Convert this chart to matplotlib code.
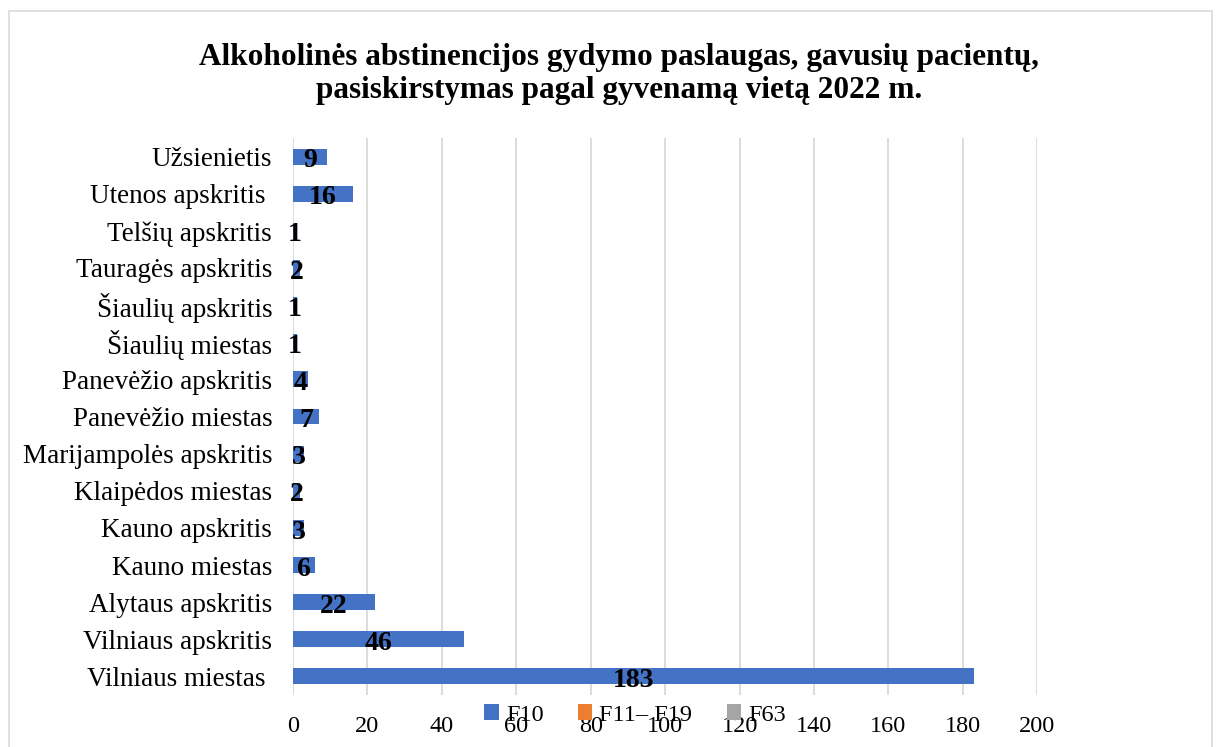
import matplotlib.pyplot as plt
from matplotlib.patches import Rectangle

# data, bottom to top as in the chart
categories = [
    "Vilniaus miestas ", "Vilniaus apskritis", "Alytaus apskritis",
    "Kauno miestas", "Kauno apskritis", "Klaipėdos miestas",
    "Marijampolės apskritis", "Panevėžio miestas", "Panevėžio apskritis",
    "Šiaulių miestas", "Šiaulių apskritis", "Tauragės apskritis",
    "Telšių apskritis", "Utenos apskritis ", "Užsienietis",
]
f10 = [183, 46, 22, 6, 3, 2, 3, 7, 4, 1, 1, 2, 1, 16, 9]
f11_f19 = [0] * len(categories)
f63 = [0] * len(categories)
series_names = ["F10", "F11– F19", "F63"]
x_ticks = [0, 20, 40, 60, 80, 100, 120, 140, 160, 180, 200]

colors = ["#4472C4", "#ED7D31", "#A5A5A5"]
font = "Liberation Serif"

fig = plt.figure(figsize=(12.19, 7.47), dpi=100)
ax = fig.add_axes([0.2404, 0.0696, 0.6105, 0.7457])

ypos = list(range(len(categories)))
bars = ax.barh(ypos, f10, height=0.43, color=colors[0], label=series_names[0], zorder=3)
ax.barh(ypos, f11_f19, height=0.43, color=colors[1], label=series_names[1], zorder=3)
ax.barh(ypos, f63, height=0.43, color=colors[2], label=series_names[2], zorder=3)

for rect, val in zip(bars, f10):
    ax.annotate(str(val), (rect.get_x() + rect.get_width() / 2, rect.get_y() + rect.get_height() / 2),
                xytext=(0, -3), textcoords="offset points", ha="center", va="center",
                fontsize=20, fontweight="bold", family=font, zorder=4)

ax.set_xlim(0, 200)
ax.set_ylim(-0.5, len(categories) - 0.5)
ax.set_xticks(x_ticks)
ax.set_yticks(ypos)
ax.set_yticklabels(categories, fontsize=19.5, family=font)
ax.set_xticklabels([str(t) for t in x_ticks], fontsize=17.5, family=font)
ax.tick_params(length=0)
ax.tick_params(axis="y", pad=15)
ax.tick_params(axis="x", pad=15)
ax.grid(axis="x", color="#D9D9D9", linewidth=1.3, zorder=0)
for s in ax.spines.values():
    s.set_visible(False)

fig.text(0.508, 0.901, "Alkoholinės abstinencijos gydymo paslaugas, gavusių pacientų,\n"
         "pasiskirstymas pagal gyvenamą vietą 2022 m.",
         ha="center", va="center", fontsize=22.5, fontweight="bold", family=font, linespacing=1.2)

leg = fig.legend(loc="center", bbox_to_anchor=(0.521, 0.043), ncol=3, frameon=False,
                 prop={"family": font, "size": 17.5}, handlelength=0.6, handleheight=0.6,
                 handletextpad=0.3, columnspacing=1.4)

# chart area border
fig.patches.append(Rectangle((0.0074, -0.05), 0.987, 1.035, transform=fig.transFigure,
                             fill=False, edgecolor="#D9D9D9", linewidth=1.2))

fig.savefig("out.png", dpi=100)
